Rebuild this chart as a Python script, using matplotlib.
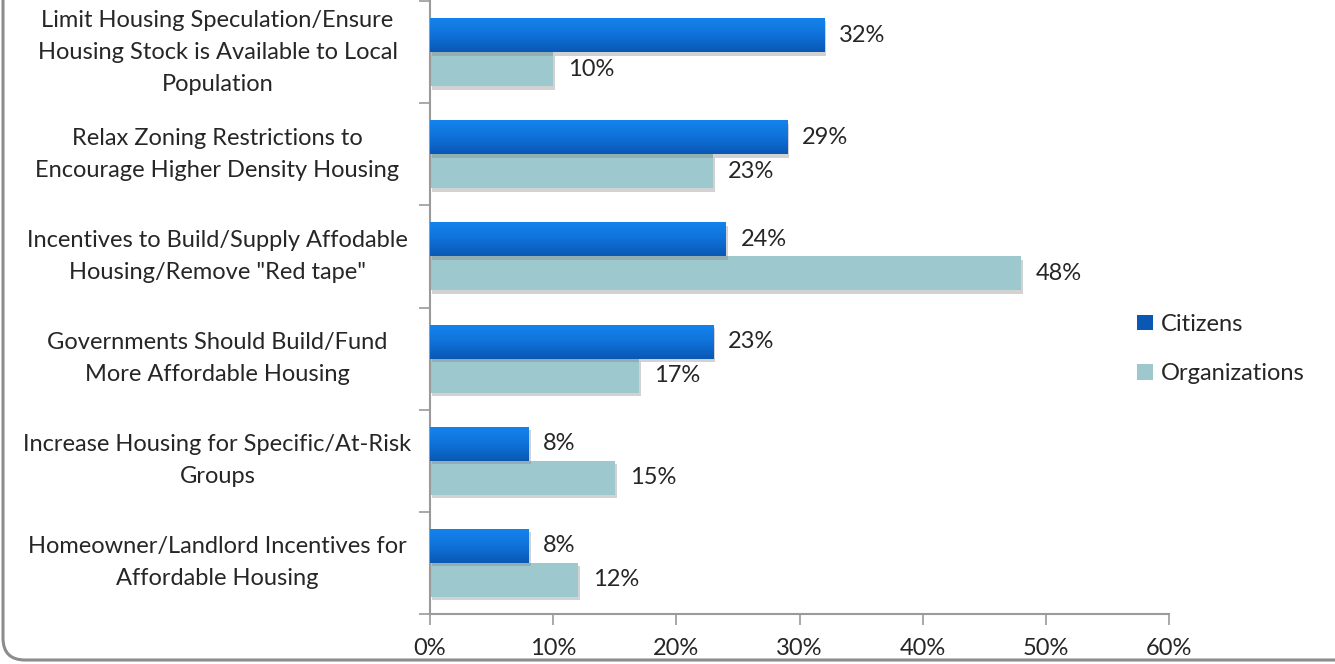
import numpy as np
import matplotlib
matplotlib.use("Agg")
import matplotlib.pyplot as plt
import matplotlib.patheffects as pe
from matplotlib.patches import FancyBboxPatch, Patch
from matplotlib.colors import LinearSegmentedColormap
import matplotlib.transforms as mtransforms

plt.rcParams['font.family'] = ['Lato', 'DejaVu Sans']

categories = [
    "Limit Housing Speculation/Ensure\nHousing Stock is Available to Local\nPopulation",
    "Relax Zoning Restrictions to\nEncourage Higher Density Housing",
    "Incentives to Build/Supply Affodable\nHousing/Remove \"Red tape\"",
    "Governments Should Build/Fund\nMore Affordable Housing",
    "Increase Housing for Specific/At-Risk\nGroups",
    "Homeowner/Landlord Incentives for\nAffordable Housing",
]
citizens = [32, 29, 24, 23, 8, 8]
organizations = [10, 23, 48, 17, 15, 12]
x_ticks = [0, 10, 20, 30, 40, 50, 60]

blue_top = "#1584EE"
blue_bottom = "#0A58B4"
teal = "#9DC8CE"
text_col = "#262626"
axis_col = "#9A9A9A"
fs = 17

fig = plt.figure(figsize=(13.35, 6.64), dpi=100)
ax = fig.add_axes([430 / 1335, 50 / 664, (1169 - 430) / 1335, (663 - 50) / 664])

y = np.arange(len(categories))
h = 1 / 3
shadow = [pe.SimplePatchShadow(offset=(1.5, -2.5), shadow_rgbFace="#808080", alpha=0.35), pe.Normal()]

blue_bars = ax.barh(y - h / 2, citizens, height=h, color=blue_bottom, zorder=3,
                    path_effects=shadow)
teal_bars = ax.barh(y + h / 2, organizations, height=h, color=teal, zorder=2,
                    path_effects=shadow)

# vertical gradient on the citizen bars
grad_cmap = LinearSegmentedColormap.from_list("blue_grad", [blue_top, "#0F72DA", blue_bottom])
grad = np.linspace(0, 1, 64).reshape(-1, 1)
for bar in blue_bars:
    x0, y0 = bar.get_x(), bar.get_y()
    w, bh = bar.get_width(), bar.get_height()
    im = ax.imshow(grad, cmap=grad_cmap, aspect="auto", zorder=4,
                   extent=(x0, x0 + w, y0 + bh, y0), origin="upper")
    im.set_clip_path(bar)

for bar, v in zip(blue_bars, citizens):
    ax.text(v + 1.2, bar.get_y() + bar.get_height() / 2, f"{v}%", va="center", ha="left",
            fontsize=fs, color=text_col, zorder=5)
for bar, v in zip(teal_bars, organizations):
    ax.text(v + 1.2, bar.get_y() + bar.get_height() / 2, f"{v}%", va="center", ha="left",
            fontsize=fs, color=text_col, zorder=5)

ax.set_xlim(0, 60)
ax.set_ylim(len(categories) - 0.5, -0.5)
ax.set_xticks(x_ticks)
ax.set_xticklabels([f"{t}%" for t in x_ticks])
ax.set_yticks(y)
ax.set_yticklabels(categories, ha="center", va="center", linespacing=1.65)
ax.set_yticks(np.arange(len(categories) + 1) - 0.5, minor=True)
ax.tick_params(axis="y", which="major", length=0, pad=153, labelsize=fs, labelcolor=text_col)
ax.tick_params(axis="y", which="minor", length=8, width=1.2, color=axis_col, direction="out")
ax.tick_params(axis="x", length=8, width=1.2, color=axis_col, direction="out",
               labelsize=fs, labelcolor=text_col, pad=9)

for s in ["top", "right"]:
    ax.spines[s].set_visible(False)
for s in ["left", "bottom"]:
    ax.spines[s].set_color(axis_col)
    ax.spines[s].set_linewidth(1.5)

handles = [Patch(facecolor=blue_bottom, label="Citizens"),
           Patch(facecolor=teal, label="Organizations")]
fig.legend(handles=handles, loc="center left", bbox_to_anchor=(1116 / 1335, 1 - 349 / 664),
           frameon=False, fontsize=fs, handlelength=0.65, handleheight=0.65,
           handletextpad=0.35, labelspacing=1.2, labelcolor=text_col)

# rounded chart frame, open to the top and right
frame = FancyBboxPatch((3, 4), 1500, 800, boxstyle="round,pad=0,rounding_size=22",
                       transform=mtransforms.IdentityTransform(), fill=False,
                       edgecolor="#8C8C8C", linewidth=2.2, zorder=0)
fig.patches.append(frame)

fig.savefig("out.png", dpi=100)
